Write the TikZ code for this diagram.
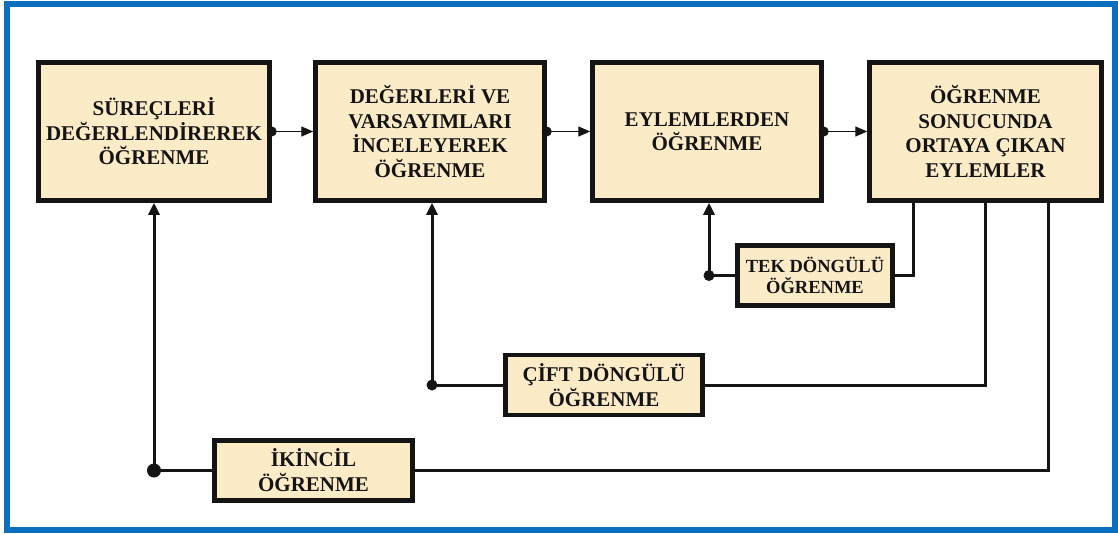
\documentclass[tikz,border=0pt]{standalone}
\usepackage{fontspec}
\setmainfont{Liberation Serif}
\usetikzlibrary{arrows.meta}
\definecolor{boxfill}{HTML}{FCEBC7}
\definecolor{framecol}{HTML}{0A6FBF}
\definecolor{ink}{HTML}{141414}
\begin{document}
\begin{tikzpicture}[x=1pt,y=-1pt,
  mainbox/.style={draw=ink,fill=boxfill,line width=4.5pt,minimum width=231pt,minimum height=138pt,
    align=center,font=\fontsize{21}{24.5}\selectfont\bfseries,text=ink,inner sep=0pt},
  loopbox/.style={draw=ink,fill=boxfill,line width=4.5pt,minimum height=60pt,
    align=center,font=\fontsize{21}{25}\selectfont\bfseries,text=ink,inner sep=0pt},
  fwd/.style={draw=ink,line width=1.3pt,-{Triangle[length=12pt,width=10pt]}},
  fb/.style={draw=ink,line width=3pt},
  fbarrow/.style={fb,-{Triangle[length=12pt,width=11pt]}},
  edgedot/.style={circle,fill=ink,inner sep=0pt,minimum size=10pt},
  joindot/.style={circle,fill=ink,inner sep=0pt,minimum size=11pt}
]
\useasboundingbox (0,0) rectangle (1118,533);
% outer frame
\fill[white] (0,0) rectangle (1118,533);
\draw[framecol,line width=6pt] (6.5,3.5) rectangle (1115,530);

% main row
\node[mainbox] (b1) at (154,131.5) {SÜREÇLERİ\\DEĞERLENDİREREK\\ÖĞRENME};
\node[mainbox,minimum width=229pt] (b2) at (430,131.5) {DEĞERLERİ VE\\VARSAYIMLARI\\İNCELEYEREK\\ÖĞRENME};
\node[mainbox,minimum width=229pt] (b3) at (707,131.5) {EYLEMLERDEN\\ÖĞRENME};
\node[mainbox,minimum width=232pt] (b4) at (985.5,131.5) {ÖĞRENME\\SONUCUNDA\\ORTAYA ÇIKAN\\EYLEMLER};

% loop boxes
\node[loopbox,minimum width=155pt,font=\fontsize{18.5}{21}\selectfont\bfseries] (tek) at (815,275.5) {TEK DÖNGÜLÜ\\ÖĞRENME};
\node[loopbox,minimum width=197pt] (cift) at (604,385) {ÇİFT DÖNGÜLÜ\\ÖĞRENME};
\node[loopbox,minimum width=198pt] (ikincil) at (313.5,470.5) {İKİNCİL\\ÖĞRENME};

% forward arrows
\path[fwd] (b1.east) -- (b2.west);
\path[fwd] (b2.east) -- (b3.west);
\path[fwd] (b3.east) -- (b4.west);
\node[edgedot] (d1) at (b1.east) {};
\node[edgedot] (d2) at (b2.east) {};
\node[edgedot] (d3) at (b3.east) {};

% feedback coordinates
\coordinate (s1) at (913,203);
\coordinate (s2) at (985,203);
\coordinate (s3) at (1048,203);
\coordinate (j1) at (709,275.5);
\coordinate (j2) at (432,385);
\coordinate (j3) at (154,470.5);

% single loop
\path[fb] (s1) |- (tek.east);
\path[fb] (tek.west) -- (j1);
\path[fbarrow] (j1) -- (j1 |- b3.south);
% double loop
\path[fb] (s2) |- (cift.east);
\path[fb] (cift.west) -- (j2);
\path[fbarrow] (j2) -- (j2 |- b2.south);
% secondary learning
\path[fb] (s3) |- (ikincil.east);
\path[fb] (ikincil.west) -- (j3);
\path[fbarrow] (j3) -- (j3 |- b1.south);

\node[joindot] at (j1) {};
\node[joindot] at (j2) {};
\node[joindot,minimum size=14pt] at (j3) {};
\end{tikzpicture}
\end{document}
